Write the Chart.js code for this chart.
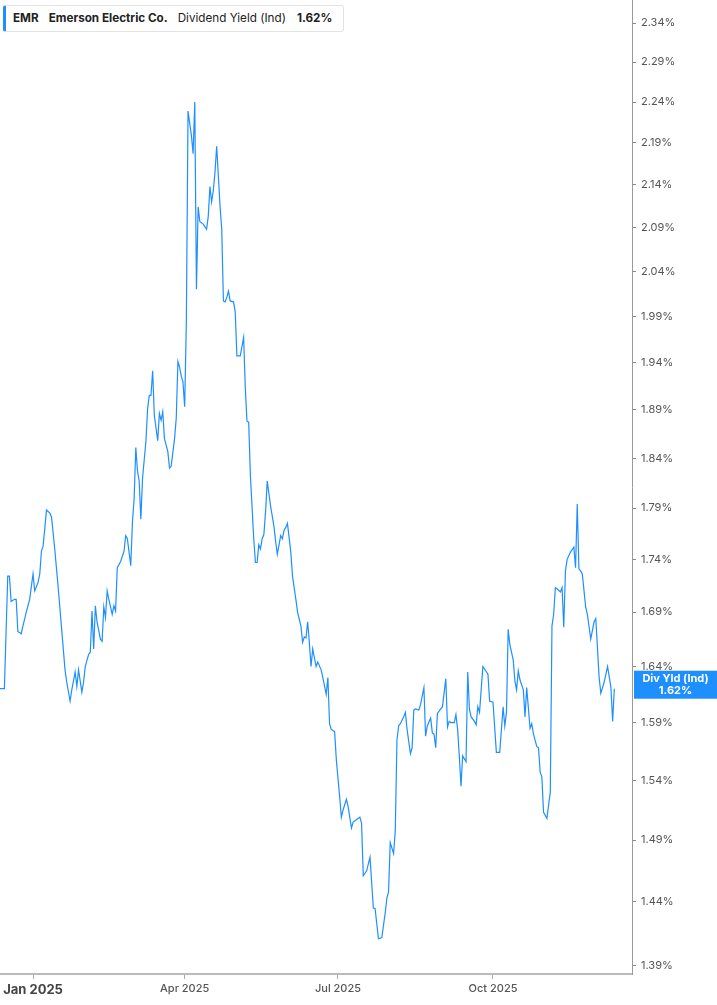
<!DOCTYPE html>
<html>
<head>
<meta charset="utf-8">
<script src="https://cdn.jsdelivr.net/npm/chart.js@4/dist/chart.umd.min.js"></script>
<style>
  html, body { margin: 0; padding: 0; background: #fff; }
  #wrap { position: relative; width: 717px; height: 1005px; }
  #legend {
    position: absolute; left: 3px; top: 5px; height: 25px; width: 337px;
    border: 1px solid #e3e3e3; border-left: 3px solid #1e8fff; border-radius: 3px;
    background: #fff; font-family: Inter, "Noto Sans", sans-serif; font-size: 11.7px;
    color: #222; line-height: 25px; white-space: nowrap;
  }
  #legend span { margin-left: 10px; }
  #legend .b { font-weight: 700; }
</style>
</head>
<body>
<div id="wrap">
  <canvas id="chart" width="717" height="1005"></canvas>
  <div id="legend"><span class="b" style="margin-left:7px">EMR</span><span class="b">Emerson Electric Co.</span><span>Dividend Yield (Ind)</span><span class="b" style="margin-left:11px">1.62%</span></div>
</div>
<script>
// days counted from 1 Jan 2025
const days = [
  -20, -17, -15, -14, -13, -11, -10, -9, -7, -6, -4, -2, 0, 1, 3, 4, 5, 6, 8, 10,
  11, 13, 15, 17, 19, 20, 22, 23, 25, 26, 27, 29, 30, 31, 33, 34, 35, 36, 37, 38,
  40, 41, 42, 43, 44, 45, 47, 48, 49, 50, 52, 54, 55, 56, 58, 59, 60, 61, 62, 63,
  64, 65, 67, 68, 69, 70, 71, 72, 73, 74, 75, 76, 77, 78, 80, 81, 82, 84, 85, 86,
  87, 88, 89, 90, 91, 92, 94, 95, 96, 97, 98, 99, 101, 103, 104, 105, 106, 107, 108, 109,
  111, 112, 113, 114, 115, 116, 117, 119, 120, 121, 123, 125, 126, 127, 128, 129, 131, 132, 133, 134,
  135, 136, 137, 138, 139, 141, 143, 144, 145, 147, 148, 149, 150, 151, 153, 154, 156, 157, 159, 160,
  161, 162, 163, 164, 165, 166, 168, 169, 171, 172, 174, 175, 176, 177, 179, 180, 182, 183, 184, 186,
  187, 189, 190, 192, 194, 195, 196, 198, 200, 202, 203, 205, 207, 209, 210, 211, 212, 214, 215, 216,
  217, 218, 220, 221, 222, 224, 225, 226, 227, 229, 230, 232, 233, 234, 236, 237, 238, 239, 240, 242,
  243, 245, 246, 247, 248, 250, 251, 252, 253, 254, 255, 257, 258, 259, 260, 262, 263, 264, 265, 267,
  270, 271, 273, 275, 277, 279, 280, 281, 282, 283, 285, 286, 287, 288, 289, 291, 292, 293, 295, 296,
  297, 299, 300, 301, 302, 303, 305, 307, 308, 309, 310, 311, 313, 314, 315, 316, 317, 319, 321, 322,
  323, 324, 325, 326, 328, 329, 331, 333, 334, 336, 337, 339, 341, 343, 344, 345
];

// dividend yield (indicated), percent
const yields = [
  1.620, 1.620, 1.724, 1.724, 1.700, 1.702, 1.702, 1.672, 1.670, 1.677, 1.690, 1.702, 1.726, 1.710, 1.718, 1.726, 1.748, 1.753, 1.788, 1.785,
  1.781, 1.748, 1.712, 1.674, 1.637, 1.626, 1.609, 1.619, 1.635, 1.622, 1.637, 1.617, 1.626, 1.640, 1.651, 1.653, 1.691, 1.656, 1.696, 1.681,
  1.665, 1.663, 1.695, 1.685, 1.710, 1.702, 1.688, 1.696, 1.691, 1.732, 1.738, 1.748, 1.763, 1.760, 1.734, 1.776, 1.799, 1.851, 1.827, 1.817,
  1.779, 1.820, 1.857, 1.891, 1.905, 1.905, 1.931, 1.884, 1.871, 1.858, 1.886, 1.879, 1.888, 1.860, 1.847, 1.830, 1.832, 1.860, 1.881, 1.941,
  1.935, 1.925, 1.919, 1.893, 1.983, 2.229, 2.199, 2.177, 2.240, 2.020, 2.114, 2.097, 2.094, 2.088, 2.103, 2.138, 2.120, 2.133, 2.155, 2.186,
  2.115, 2.088, 2.007, 2.006, 2.011, 2.018, 2.007, 2.006, 1.995, 1.947, 1.947, 1.967, 1.912, 1.878, 1.877, 1.823, 1.760, 1.737, 1.737, 1.754,
  1.750, 1.760, 1.764, 1.786, 1.817, 1.792, 1.772, 1.757, 1.745, 1.763, 1.760, 1.768, 1.771, 1.775, 1.747, 1.724, 1.702, 1.690, 1.677, 1.662,
  1.667, 1.666, 1.681, 1.662, 1.640, 1.656, 1.640, 1.644, 1.637, 1.630, 1.615, 1.630, 1.589, 1.584, 1.582, 1.558, 1.526, 1.509, 1.515, 1.524,
  1.518, 1.500, 1.505, 1.507, 1.509, 1.504, 1.461, 1.465, 1.476, 1.435, 1.435, 1.411, 1.412, 1.431, 1.443, 1.448, 1.488, 1.479, 1.498, 1.575,
  1.587, 1.589, 1.595, 1.599, 1.584, 1.563, 1.568, 1.601, 1.602, 1.601, 1.606, 1.621, 1.578, 1.587, 1.594, 1.581, 1.580, 1.568, 1.598, 1.602,
  1.604, 1.629, 1.586, 1.591, 1.590, 1.590, 1.597, 1.584, 1.561, 1.535, 1.561, 1.556, 1.635, 1.602, 1.595, 1.591, 1.588, 1.604, 1.599, 1.640,
  1.633, 1.609, 1.608, 1.564, 1.564, 1.604, 1.587, 1.599, 1.674, 1.660, 1.646, 1.627, 1.619, 1.636, 1.628, 1.619, 1.595, 1.621, 1.585, 1.589,
  1.580, 1.569, 1.568, 1.547, 1.543, 1.513, 1.508, 1.530, 1.677, 1.688, 1.713, 1.712, 1.709, 1.713, 1.676, 1.729, 1.740, 1.747, 1.752, 1.732,
  1.794, 1.731, 1.729, 1.726, 1.695, 1.688, 1.665, 1.681, 1.684, 1.630, 1.616, 1.626, 1.640, 1.621, 1.591, 1.620
];

const yTicks = [2.34, 2.29, 2.24, 2.19, 2.14, 2.09, 2.04, 1.99, 1.94, 1.89, 1.84, 1.79, 1.74, 1.69, 1.64, 1.59, 1.54, 1.49, 1.44, 1.39];
const xTicks = [0, 90, 181, 273];
const xTickLabels = ['Jan 2025', 'Apr 2025', 'Jul 2025', 'Oct 2025'];

const lineColor = '#1e8fff';

// box with the latest value on the right axis
const lastValueBox = {
  id: 'lastValueBox',
  afterDraw(chart) {
    const ctx = chart.ctx;
    const y = chart.scales.y.getPixelForValue(yields[yields.length - 1]);
    const left = chart.chartArea.right + 2;
    ctx.save();
    ctx.fillStyle = lineColor;
    ctx.fillRect(left, y - 18, chart.width - left, 28);
    ctx.fillStyle = '#fff';
    ctx.font = 'bold 11px Inter, "Noto Sans", sans-serif';
    ctx.textAlign = 'center';
    ctx.textBaseline = 'middle';
    const cx = left + (chart.width - left) / 2;
    ctx.fillText('Div Yld (Ind)', cx, y - 10);
    ctx.fillText(yields[yields.length - 1].toFixed(2) + '%', cx, y + 2);
    ctx.restore();
  }
};

new Chart(document.getElementById('chart'), {
  type: 'line',
  data: {
    datasets: [{
      label: 'Dividend Yield (Ind)',
      data: days.map((d, i) => ({ x: d, y: yields[i] })),
      borderColor: lineColor,
      borderWidth: 1.2,
      pointRadius: 0,
      tension: 0,
      fill: false
    }]
  },
  options: {
    responsive: false,
    animation: false,
    devicePixelRatio: 1,
    layout: { padding: 0 },
    plugins: { legend: { display: false }, tooltip: { enabled: false } },
    scales: {
      x: {
        type: 'linear',
        min: -19.6,
        max: 355.5,
        afterBuildTicks: s => { s.ticks = xTicks.map(v => ({ value: v })); },
        afterFit: s => { s.height = 31; s.paddingLeft = 0; s.paddingRight = 0; },
        grid: { drawOnChartArea: false, drawTicks: true, tickLength: 5, color: '#aaa' },
        border: { display: true, color: '#bbb', width: 2 },
        ticks: {
          padding: 3,
          maxRotation: 0,
          color: c => c.index === 0 ? '#444' : '#555',
          font: c => c.index === 0
            ? { family: 'Inter, "Noto Sans", sans-serif', size: 13, weight: 'bold' }
            : { family: 'Inter, "Noto Sans", sans-serif', size: 11, weight: 500 },
          callback: (v, i) => xTickLabels[i]
        }
      },
      y: {
        type: 'logarithmic',
        position: 'right',
        min: 1.3838,
        max: 2.370,
        afterBuildTicks: s => { s.ticks = yTicks.map(v => ({ value: v })); },
        afterFit: s => { s.width = 85; s.paddingTop = 0; s.paddingBottom = 0; },
        grid: { drawOnChartArea: false, drawTicks: true, tickLength: 4, color: '#888' },
        border: { display: true, color: '#999', width: 1 },
        ticks: {
          padding: 5,
          color: '#555',
          font: { family: 'Inter, "Noto Sans", sans-serif', size: 11 },
          callback: v => Number(v).toFixed(2) + '%'
        }
      }
    }
  },
  plugins: [lastValueBox]
});
</script>
</body>
</html>
